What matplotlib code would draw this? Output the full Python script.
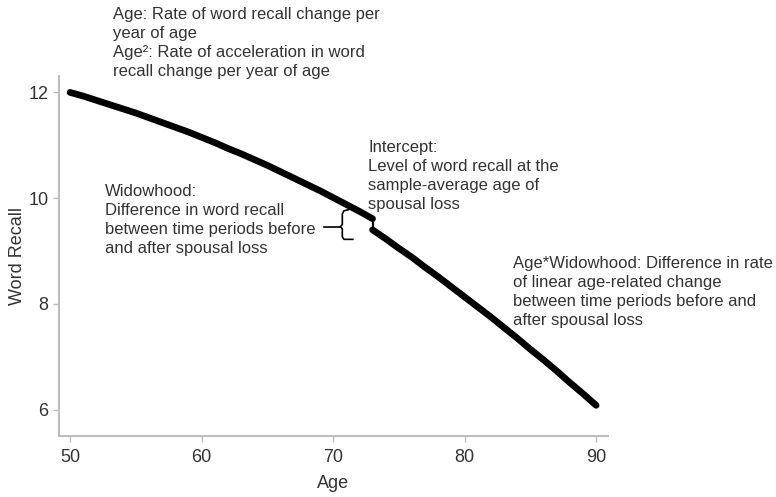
import matplotlib
matplotlib.use("Agg")
import matplotlib.pyplot as plt

plt.rcParams['font.family'] = ['Liberation Sans', 'DejaVu Sans']

# word recall, before and after spousal loss (age 73)
age_before = [50, 51, 52, 53, 54, 55, 56, 57, 58, 59, 60, 61,
              62, 63, 64, 65, 66, 67, 68, 69, 70, 71, 72, 73]
recall_before = [12.00, 11.93, 11.85, 11.77, 11.69, 11.61, 11.52, 11.43,
                 11.34, 11.25, 11.15, 11.05, 10.94, 10.84, 10.73, 10.62,
                 10.50, 10.38, 10.26, 10.14, 10.01, 9.88, 9.75, 9.61]
age_after = [73, 74, 75, 76, 77, 78, 79, 80, 81,
             82, 83, 84, 85, 86, 87, 88, 89, 90]
recall_after = [9.40, 9.23, 9.05, 8.88, 8.69, 8.51, 8.32, 8.13, 7.94,
                7.75, 7.55, 7.35, 7.14, 6.94, 6.73, 6.51, 6.30, 6.08]

x_ticks = [50, 60, 70, 80, 90]
y_ticks = [6, 8, 10, 12]

txt_age = ("Age: Rate of word recall change per\nyear of age\n"
           "Age\u00b2: Rate of acceleration in word\nrecall change per year of age")
txt_intercept = ("Intercept:\nLevel of word recall at the\n"
                 "sample-average age of\nspousal loss")
txt_widow = ("Widowhood:\nDifference in word recall\n"
             "between time periods before\nand after spousal loss")
txt_slope = ("Age*Widowhood: Difference in rate\nof linear age-related change\n"
             "between time periods before and\nafter spousal loss")

W, H = 776, 497
fig = plt.figure(figsize=(W / 100, H / 100), dpi=100)
ax = fig.add_axes([59 / W, 1 - 436 / H, (608 - 59) / W, (436 - 76) / H])

ax.plot(age_before, recall_before, color='black', lw=4.8, solid_capstyle='round')
ax.plot(age_after, recall_after, color='black', lw=4.8, solid_capstyle='round')
# step at spousal loss
ax.plot([age_before[-1], age_after[0]], [recall_before[-1], recall_after[0]],
        color='black', lw=1.6)

# brace next to the step
bx = [71.15, 70.82, 70.7, 70.7, 70.55, 70.7, 70.7, 70.82, 71.5]
by = [9.78, 9.76, 9.70, 9.50, 9.46, 9.42, 9.27, 9.22, 9.22]
ax.plot(bx, by, color='black', lw=1.2)
ax.plot([69.3, 70.55], [9.46, 9.46], color='black', lw=1.2)

ax.set_xlim(49.16, 90.9)
ax.set_ylim(5.5, 12.31)
ax.set_xticks(x_ticks)
ax.set_yticks(y_ticks)

gray = '#bdbdbd'
for side in ['top', 'right']:
    ax.spines[side].set_visible(False)
for side in ['left', 'bottom']:
    ax.spines[side].set_color(gray)
    ax.spines[side].set_linewidth(1.5)
ax.tick_params(colors=gray, labelcolor='#333333', labelsize=13, length=4, width=1)
ax.tick_params(axis='x', pad=5)

ax.set_xlabel('Age', fontsize=13, color='#333333', labelpad=7)
ax.set_ylabel('Word Recall', fontsize=13, color='#333333', labelpad=2)

tcol = '#333333'
fs = 12
ls = 1.32
fig.text(113 / W, 1 - 43 / H, txt_age, fontsize=fs, color=tcol, va='center', linespacing=ls)
fig.text(368 / W, 1 - 176 / H, txt_intercept, fontsize=fs, color=tcol, va='center', linespacing=ls)
fig.text(105 / W, 1 - 220 / H, txt_widow, fontsize=fs, color=tcol, va='center', linespacing=ls)
fig.text(513 / W, 1 - 292 / H, txt_slope, fontsize=fs, color=tcol, va='center', linespacing=ls)

fig.savefig('out.png', dpi=100)
